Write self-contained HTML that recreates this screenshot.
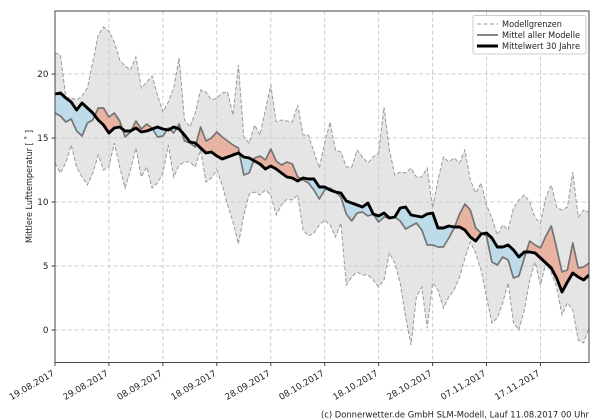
<!DOCTYPE html>
<html>
<head>
<meta charset="utf-8">
<style>
html,body{margin:0;padding:0;background:#fff;}
svg{display:block;}
text{font-family:"DejaVu Sans","Liberation Sans",sans-serif;fill:#222;}
</style>
</head>
<body>
<svg width="600" height="420" viewBox="0 0 600 420" xmlns="http://www.w3.org/2000/svg">
<defs>
<clipPath id="plot"><rect x="55" y="11" width="534" height="352"/></clipPath>
<clipPath id="aboveLower"><path d="M55,163 L60.4,173 65.8,163 71.2,145 76.6,167 82,177 87.4,185 92.8,173 98.2,155 103.5,170 108.9,167 114.3,143 119.7,167 125.1,188 130.5,170 135.9,148 141.3,177 146.7,167 152.1,188 157.5,183 162.9,173 168.3,145 173.7,177 179.1,165 184.5,162 189.9,162 195.2,167 200.6,150 206,182 211.4,178 216.8,170 222.2,185 227.6,205 233,222 238.4,244 243.8,215 249.2,194 254.6,192 260,195 265.4,190 270.8,195 276.2,215 281.5,205 286.9,199 292.3,200 297.7,195 303.1,230 308.5,236 313.9,233 319.3,225 324.7,220 330.1,225 335.5,237 340.9,223 346.3,285 351.7,277 357.1,272 362.5,275 367.9,275 373.2,280 378.6,287 384,280 389.4,253 394.8,263 400.2,283 405.6,317 411,345 416.4,297 421.8,287 427.2,328 432.6,283 438,290 443.4,308 448.8,297 454.2,290 459.6,277 464.9,258 470.3,242 475.7,253 481.1,270 486.5,297 491.9,323 497.3,318 502.7,303 508.1,283 513.5,323 518.9,330 524.3,310 529.7,280 535.1,262 540.5,285 545.9,263 551.3,273 556.6,287 562,315 567.4,303 572.8,310 578.2,340 583.6,343 589,328 L589,0 L55,0 Z"/></clipPath>
<clipPath id="aboveBlack"><path d="M55,94 L60.4,93 65.8,98 71.2,102 76.6,110 82,103 87.4,108 92.8,113 98.2,120 103.5,125 108.9,133 114.3,128 119.7,127 125.1,131 130.5,131 135.9,128 141.3,132 146.7,131 152.1,129 157.5,127 162.9,129 168.3,130 173.7,127 179.1,129 184.5,135 189.9,142 195.2,143 200.6,148 206,153 211.4,152 216.8,156 222.2,159 227.6,157 233,155 238.4,153 243.8,157 249.2,158 254.6,161 260,164 265.4,169 270.8,166 276.2,169 281.5,173 286.9,177 292.3,178 297.7,181 303.1,178 308.5,179 313.9,179 319.3,187 324.7,187 330.1,190 335.5,192 340.9,193 346.3,201 351.7,203 357.1,205 362.5,207 367.9,203 373.2,214 378.6,216 384,213 389.4,218 394.8,217 400.2,208 405.6,207 411,215 416.4,216 421.8,217 427.2,214 432.6,213 438,228 443.4,228 448.8,226 454.2,227 459.6,227 464.9,230 470.3,237 475.7,241 481.1,234 486.5,233 491.9,238 497.3,247 502.7,247 508.1,245 513.5,250 518.9,257 524.3,252 529.7,252 535.1,253 540.5,258 545.9,263 551.3,268 556.6,278 562,292 567.4,282 572.8,273 578.2,277 583.6,280 589,275 L589,0 L55,0 Z"/></clipPath>
<clipPath id="belowBlack"><path d="M55,94 L60.4,93 65.8,98 71.2,102 76.6,110 82,103 87.4,108 92.8,113 98.2,120 103.5,125 108.9,133 114.3,128 119.7,127 125.1,131 130.5,131 135.9,128 141.3,132 146.7,131 152.1,129 157.5,127 162.9,129 168.3,130 173.7,127 179.1,129 184.5,135 189.9,142 195.2,143 200.6,148 206,153 211.4,152 216.8,156 222.2,159 227.6,157 233,155 238.4,153 243.8,157 249.2,158 254.6,161 260,164 265.4,169 270.8,166 276.2,169 281.5,173 286.9,177 292.3,178 297.7,181 303.1,178 308.5,179 313.9,179 319.3,187 324.7,187 330.1,190 335.5,192 340.9,193 346.3,201 351.7,203 357.1,205 362.5,207 367.9,203 373.2,214 378.6,216 384,213 389.4,218 394.8,217 400.2,208 405.6,207 411,215 416.4,216 421.8,217 427.2,214 432.6,213 438,228 443.4,228 448.8,226 454.2,227 459.6,227 464.9,230 470.3,237 475.7,241 481.1,234 486.5,233 491.9,238 497.3,247 502.7,247 508.1,245 513.5,250 518.9,257 524.3,252 529.7,252 535.1,253 540.5,258 545.9,263 551.3,268 556.6,278 562,292 567.4,282 572.8,273 578.2,277 583.6,280 589,275 L589,420 L55,420 Z"/></clipPath>
</defs>

<g clip-path="url(#plot)">
<path clip-path="url(#aboveLower)" fill="#e5e5e5" d="M55,53 L60.4,55 65.8,97 71.2,98 76.6,100 82,96 87.4,88 92.8,62 98.2,35 103.5,27 108.9,31 114.3,42 119.7,60 125.1,66 130.5,70 135.9,57 141.3,88 146.7,82 152.1,76 157.5,95 162.9,112 168.3,102 173.7,88 179.1,58 184.5,120 189.9,127 195.2,113 200.6,90 206,92 211.4,100 216.8,98 222.2,93 227.6,92 233,115 238.4,65 243.8,137 249.2,143 254.6,125 260,135 265.4,110 270.8,85 276.2,122 281.5,120 286.9,121 292.3,122 297.7,105 303.1,135 308.5,135 313.9,152 319.3,168 324.7,143 330.1,122 335.5,150 340.9,152 346.3,167 351.7,167 357.1,150 362.5,157 367.9,163 373.2,157 378.6,153 384,107 389.4,150 394.8,175 400.2,172 405.6,173 411,168 416.4,177 421.8,177 427.2,168 432.6,208 438,180 443.4,157 448.8,162 454.2,158 459.6,163 464.9,150 470.3,180 475.7,193 481.1,183 486.5,205 491.9,218 497.3,235 502.7,225 508.1,230 513.5,208 518.9,200 524.3,195 529.7,202 535.1,218 540.5,223 545.9,197 551.3,185 556.6,207 562,210 567.4,207 572.8,172 578.2,217 583.6,210 589,212 L589,420 L55,420 Z"/>

<g stroke="#cccccc" stroke-width="1" stroke-dasharray="4,2.5" fill="none">
<line x1="108.9" y1="11" x2="108.9" y2="362"/>
<line x1="162.9" y1="11" x2="162.9" y2="362"/>
<line x1="216.8" y1="11" x2="216.8" y2="362"/>
<line x1="270.8" y1="11" x2="270.8" y2="362"/>
<line x1="324.7" y1="11" x2="324.7" y2="362"/>
<line x1="378.6" y1="11" x2="378.6" y2="362"/>
<line x1="432.6" y1="11" x2="432.6" y2="362"/>
<line x1="486.5" y1="11" x2="486.5" y2="362"/>
<line x1="540.5" y1="11" x2="540.5" y2="362"/>
<line x1="55" y1="330" x2="589" y2="330"/>
<line x1="55" y1="266" x2="589" y2="266"/>
<line x1="55" y1="202" x2="589" y2="202"/>
<line x1="55" y1="138" x2="589" y2="138"/>
<line x1="55" y1="74" x2="589" y2="74"/>
</g>

<path clip-path="url(#aboveBlack)" fill="#e9b3a4" d="M55,113 L60.4,116 65.8,122 71.2,119 76.6,131 82,136 87.4,123 92.8,120 98.2,108 103.5,108 108.9,117 114.3,113 119.7,121 125.1,137 130.5,132 135.9,121 141.3,129 146.7,124 152.1,128 157.5,137 162.9,136 168.3,128 173.7,133 179.1,124 184.5,141 189.9,143 195.2,147 200.6,127 206,141 211.4,138 216.8,132 222.2,137 227.6,141 233,145 238.4,148 243.8,175 249.2,173 254.6,158 260,156 265.4,160 270.8,149 276.2,161 281.5,165 286.9,162 292.3,164 297.7,177 303.1,180 308.5,183 313.9,190 319.3,199 324.7,190 330.1,188 335.5,192 340.9,197 346.3,214 351.7,221 357.1,213 362.5,212 367.9,216 373.2,214 378.6,222 384,217 389.4,218 394.8,217 400.2,221 405.6,229 411,226 416.4,223 421.8,230 427.2,245 432.6,245 438,247 443.4,247 448.8,238 454.2,228 459.6,214 464.9,204 470.3,210 475.7,228 481.1,233 486.5,236 491.9,262 497.3,265 502.7,257 508.1,260 513.5,278 518.9,276 524.3,258 529.7,241 535.1,245 540.5,248 545.9,236 551.3,226 556.6,248 562,272 567.4,270 572.8,243 578.2,268 583.6,267 589,263 L589,420 L55,420 Z"/>
<path clip-path="url(#belowBlack)" fill="#bddbe8" d="M55,113 L60.4,116 65.8,122 71.2,119 76.6,131 82,136 87.4,123 92.8,120 98.2,108 103.5,108 108.9,117 114.3,113 119.7,121 125.1,137 130.5,132 135.9,121 141.3,129 146.7,124 152.1,128 157.5,137 162.9,136 168.3,128 173.7,133 179.1,124 184.5,141 189.9,143 195.2,147 200.6,127 206,141 211.4,138 216.8,132 222.2,137 227.6,141 233,145 238.4,148 243.8,175 249.2,173 254.6,158 260,156 265.4,160 270.8,149 276.2,161 281.5,165 286.9,162 292.3,164 297.7,177 303.1,180 308.5,183 313.9,190 319.3,199 324.7,190 330.1,188 335.5,192 340.9,197 346.3,214 351.7,221 357.1,213 362.5,212 367.9,216 373.2,214 378.6,222 384,217 389.4,218 394.8,217 400.2,221 405.6,229 411,226 416.4,223 421.8,230 427.2,245 432.6,245 438,247 443.4,247 448.8,238 454.2,228 459.6,214 464.9,204 470.3,210 475.7,228 481.1,233 486.5,236 491.9,262 497.3,265 502.7,257 508.1,260 513.5,278 518.9,276 524.3,258 529.7,241 535.1,245 540.5,248 545.9,236 551.3,226 556.6,248 562,272 567.4,270 572.8,243 578.2,268 583.6,267 589,263 L589,0 L55,0 Z"/>

<g fill="none" stroke="#9a9a9a" stroke-width="1" stroke-dasharray="4,2">
<polyline points="55,53 60.4,55 65.8,97 71.2,98 76.6,100 82,96 87.4,88 92.8,62 98.2,35 103.5,27 108.9,31 114.3,42 119.7,60 125.1,66 130.5,70 135.9,57 141.3,88 146.7,82 152.1,76 157.5,95 162.9,112 168.3,102 173.7,88 179.1,58 184.5,120 189.9,127 195.2,113 200.6,90 206,92 211.4,100 216.8,98 222.2,93 227.6,92 233,115 238.4,65 243.8,137 249.2,143 254.6,125 260,135 265.4,110 270.8,85 276.2,122 281.5,120 286.9,121 292.3,122 297.7,105 303.1,135 308.5,135 313.9,152 319.3,168 324.7,143 330.1,122 335.5,150 340.9,152 346.3,167 351.7,167 357.1,150 362.5,157 367.9,163 373.2,157 378.6,153 384,107 389.4,150 394.8,175 400.2,172 405.6,173 411,168 416.4,177 421.8,177 427.2,168 432.6,208 438,180 443.4,157 448.8,162 454.2,158 459.6,163 464.9,150 470.3,180 475.7,193 481.1,183 486.5,205 491.9,218 497.3,235 502.7,225 508.1,230 513.5,208 518.9,200 524.3,195 529.7,202 535.1,218 540.5,223 545.9,197 551.3,185 556.6,207 562,210 567.4,207 572.8,172 578.2,217 583.6,210 589,212"/>
<polyline points="55,163 60.4,173 65.8,163 71.2,145 76.6,167 82,177 87.4,185 92.8,173 98.2,155 103.5,170 108.9,167 114.3,143 119.7,167 125.1,188 130.5,170 135.9,148 141.3,177 146.7,167 152.1,188 157.5,183 162.9,173 168.3,145 173.7,177 179.1,165 184.5,162 189.9,162 195.2,167 200.6,150 206,182 211.4,178 216.8,170 222.2,185 227.6,205 233,222 238.4,244 243.8,215 249.2,194 254.6,192 260,195 265.4,190 270.8,195 276.2,215 281.5,205 286.9,199 292.3,200 297.7,195 303.1,230 308.5,236 313.9,233 319.3,225 324.7,220 330.1,225 335.5,237 340.9,223 346.3,285 351.7,277 357.1,272 362.5,275 367.9,275 373.2,280 378.6,287 384,280 389.4,253 394.8,263 400.2,283 405.6,317 411,345 416.4,297 421.8,287 427.2,328 432.6,283 438,290 443.4,308 448.8,297 454.2,290 459.6,277 464.9,258 470.3,242 475.7,253 481.1,270 486.5,297 491.9,323 497.3,318 502.7,303 508.1,283 513.5,323 518.9,330 524.3,310 529.7,280 535.1,262 540.5,285 545.9,263 551.3,273 556.6,287 562,315 567.4,303 572.8,310 578.2,340 583.6,343 589,328"/>
</g>

<polyline fill="none" stroke="#747474" stroke-width="1.7" stroke-linejoin="round" points="55,113 60.4,116 65.8,122 71.2,119 76.6,131 82,136 87.4,123 92.8,120 98.2,108 103.5,108 108.9,117 114.3,113 119.7,121 125.1,137 130.5,132 135.9,121 141.3,129 146.7,124 152.1,128 157.5,137 162.9,136 168.3,128 173.7,133 179.1,124 184.5,141 189.9,143 195.2,147 200.6,127 206,141 211.4,138 216.8,132 222.2,137 227.6,141 233,145 238.4,148 243.8,175 249.2,173 254.6,158 260,156 265.4,160 270.8,149 276.2,161 281.5,165 286.9,162 292.3,164 297.7,177 303.1,180 308.5,183 313.9,190 319.3,199 324.7,190 330.1,188 335.5,192 340.9,197 346.3,214 351.7,221 357.1,213 362.5,212 367.9,216 373.2,214 378.6,222 384,217 389.4,218 394.8,217 400.2,221 405.6,229 411,226 416.4,223 421.8,230 427.2,245 432.6,245 438,247 443.4,247 448.8,238 454.2,228 459.6,214 464.9,204 470.3,210 475.7,228 481.1,233 486.5,236 491.9,262 497.3,265 502.7,257 508.1,260 513.5,278 518.9,276 524.3,258 529.7,241 535.1,245 540.5,248 545.9,236 551.3,226 556.6,248 562,272 567.4,270 572.8,243 578.2,268 583.6,267 589,263"/>

<polyline fill="none" stroke="#000" stroke-width="2.9" stroke-linejoin="round" points="55,94 60.4,93 65.8,98 71.2,102 76.6,110 82,103 87.4,108 92.8,113 98.2,120 103.5,125 108.9,133 114.3,128 119.7,127 125.1,131 130.5,131 135.9,128 141.3,132 146.7,131 152.1,129 157.5,127 162.9,129 168.3,130 173.7,127 179.1,129 184.5,135 189.9,142 195.2,143 200.6,148 206,153 211.4,152 216.8,156 222.2,159 227.6,157 233,155 238.4,153 243.8,157 249.2,158 254.6,161 260,164 265.4,169 270.8,166 276.2,169 281.5,173 286.9,177 292.3,178 297.7,181 303.1,178 308.5,179 313.9,179 319.3,187 324.7,187 330.1,190 335.5,192 340.9,193 346.3,201 351.7,203 357.1,205 362.5,207 367.9,203 373.2,214 378.6,216 384,213 389.4,218 394.8,217 400.2,208 405.6,207 411,215 416.4,216 421.8,217 427.2,214 432.6,213 438,228 443.4,228 448.8,226 454.2,227 459.6,227 464.9,230 470.3,237 475.7,241 481.1,234 486.5,233 491.9,238 497.3,247 502.7,247 508.1,245 513.5,250 518.9,257 524.3,252 529.7,252 535.1,253 540.5,258 545.9,263 551.3,268 556.6,278 562,292 567.4,282 572.8,273 578.2,277 583.6,280 589,275"/>
</g>

<rect x="55" y="11" width="534" height="351.5" fill="none" stroke="#444" stroke-width="1"/>

<g stroke="#444" stroke-width="1">
<line x1="51.5" y1="330" x2="55" y2="330"/>
<line x1="51.5" y1="266" x2="55" y2="266"/>
<line x1="51.5" y1="202" x2="55" y2="202"/>
<line x1="51.5" y1="138" x2="55" y2="138"/>
<line x1="51.5" y1="74" x2="55" y2="74"/>
<line x1="55" y1="362.5" x2="55" y2="366"/>
<line x1="108.9" y1="362.5" x2="108.9" y2="366"/>
<line x1="162.9" y1="362.5" x2="162.9" y2="366"/>
<line x1="216.8" y1="362.5" x2="216.8" y2="366"/>
<line x1="270.8" y1="362.5" x2="270.8" y2="366"/>
<line x1="324.7" y1="362.5" x2="324.7" y2="366"/>
<line x1="378.6" y1="362.5" x2="378.6" y2="366"/>
<line x1="432.6" y1="362.5" x2="432.6" y2="366"/>
<line x1="486.5" y1="362.5" x2="486.5" y2="366"/>
<line x1="540.5" y1="362.5" x2="540.5" y2="366"/>
</g>

<g font-size="8.8" text-anchor="end">
<text x="48.5" y="333.2">0</text>
<text x="48.5" y="269.2">5</text>
<text x="48.5" y="205.2">10</text>
<text x="48.5" y="141.2">15</text>
<text x="48.5" y="77.2">20</text>
</g>

<g font-size="8.8" text-anchor="end">
<text transform="translate(55,375) rotate(-30)">19.08.2017</text>
<text transform="translate(108.9,375) rotate(-30)">29.08.2017</text>
<text transform="translate(162.9,375) rotate(-30)">08.09.2017</text>
<text transform="translate(216.8,375) rotate(-30)">18.09.2017</text>
<text transform="translate(270.8,375) rotate(-30)">28.09.2017</text>
<text transform="translate(324.7,375) rotate(-30)">08.10.2017</text>
<text transform="translate(378.6,375) rotate(-30)">18.10.2017</text>
<text transform="translate(432.6,375) rotate(-30)">28.10.2017</text>
<text transform="translate(486.5,375) rotate(-30)">07.11.2017</text>
<text transform="translate(540.5,375) rotate(-30)">17.11.2017</text>
</g>

<text font-size="8.8" text-anchor="middle" transform="translate(32,186.5) rotate(-90)" textLength="113" lengthAdjust="spacingAndGlyphs">Mittlere Lufttemperatur [ ˚ ]</text>

<rect x="473" y="15.5" width="113" height="38.5" rx="2" fill="#fff" fill-opacity="0.85" stroke="#cccccc" stroke-width="1"/>
<line x1="477" y1="24" x2="498" y2="24" stroke="#9a9a9a" stroke-width="1" stroke-dasharray="4,2.5"/>
<line x1="477" y1="35" x2="498" y2="35" stroke="#747474" stroke-width="1.7"/>
<line x1="477" y1="46" x2="498" y2="46" stroke="#000" stroke-width="2.9"/>
<g font-size="8.8">
<text x="502" y="27.2" textLength="60" lengthAdjust="spacingAndGlyphs">Modellgrenzen</text>
<text x="502" y="38.2" textLength="78" lengthAdjust="spacingAndGlyphs">Mittel aller Modelle</text>
<text x="502" y="49.2" textLength="78" lengthAdjust="spacingAndGlyphs">Mittelwert 30 Jahre</text>
</g>

<text x="321" y="417.5" font-size="8.6" textLength="268" lengthAdjust="spacingAndGlyphs">(c) Donnerwetter.de GmbH SLM-Modell, Lauf 11.08.2017 00 Uhr</text>
</svg>
</body>
</html>
